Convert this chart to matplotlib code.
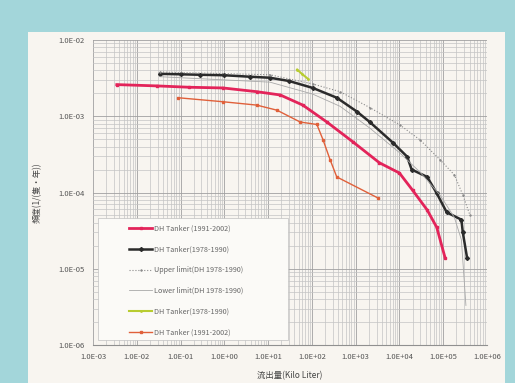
import matplotlib
matplotlib.use('Agg')
import matplotlib.pyplot as plt
import matplotlib.ticker as mticker
from matplotlib.patches import Rectangle

plt.rcParams['font.family'] = ['Noto Sans CJK JP', 'DejaVu Sans']

# DH Tanker (1978-1990)
black_x = [0.034, 0.1, 0.28, 1.0, 3.8, 11, 30, 105, 370, 1070, 2100, 7100, 15000,
           19000, 43000, 71000, 120000, 260000, 280000, 350000]
black_y = [3.6e-3, 3.55e-3, 3.5e-3, 3.45e-3, 3.3e-3, 3.2e-3, 2.9e-3, 2.35e-3, 1.75e-3,
           1.15e-3, 8.4e-4, 4.5e-4, 2.95e-4, 2.0e-4, 1.6e-4, 9.8e-5, 5.5e-5, 4.4e-5,
           3.0e-5, 1.4e-5]

# DH Tanker (1991-2002)
red_x = [3.5e-3, 0.029, 0.16, 0.93, 5.5, 19, 62, 220, 870, 3500, 10000, 20000,
         43000, 71000, 110000]
red_y = [2.6e-3, 2.5e-3, 2.4e-3, 2.35e-3, 2.1e-3, 1.9e-3, 1.4e-3, 8.4e-4, 4.6e-4,
         2.45e-4, 1.8e-4, 1.07e-4, 5.9e-5, 3.5e-5, 1.4e-5]

# DH Tanker (1991-2002), second series
orange_x = [0.087, 0.93, 5.5, 16, 54, 130, 180, 260, 370, 3200]
orange_y = [1.75e-3, 1.55e-3, 1.4e-3, 1.2e-3, 8.4e-4, 7.8e-4, 4.9e-4, 2.7e-4,
            1.6e-4, 8.5e-5]

# upper / lower limits (DH 1978-1990)
upper_x = [0.034, 11, 105, 440, 2100, 10200, 29500, 84000, 180000, 280000, 410000]
upper_y = [3.8e-3, 3.5e-3, 2.65e-3, 2.1e-3, 1.3e-3, 7.7e-4, 4.9e-4, 2.7e-4,
           1.7e-4, 9.3e-5, 5.0e-5]
lower_x = [0.034, 11, 105, 440, 2100, 10200, 29500, 84000, 180000, 260000, 330000]
lower_y = [3.3e-3, 2.8e-3, 1.95e-3, 1.35e-3, 7.0e-4, 3.3e-4, 1.85e-4, 9.3e-5,
           4.7e-5, 2.4e-5, 3.3e-6]

# DH Tanker (1978-1990), short segment
yel_x = [46, 59, 81]
yel_y = [4.1e-3, 3.6e-3, 3.1e-3]

labels = ['DH Tanker (1991-2002)', 'DH Tanker(1978-1990)',
          'Upper limit(DH 1978-1990)', 'Lower limit(DH 1978-1990)',
          'DH Tanker(1978-1990)', 'DH Tanker (1991-2002)']

fig = plt.figure(figsize=(5.15, 3.83), dpi=100)
fig.patch.set_facecolor('#a3d6da')

# white panel behind the chart
bg = fig.add_axes([0, 0, 1, 1], zorder=-1)
bg.set_xlim(0, 515)
bg.set_ylim(383, 0)
bg.axis('off')
bg.add_patch(Rectangle((28, 32), 477, 360, facecolor='#f8f5f0', edgecolor='none'))

ax = fig.add_axes([93 / 515, 1 - 345 / 383, 394 / 515, 305 / 383])
ax.set_facecolor('#f8f5f0')
ax.set_xscale('log')
ax.set_yscale('log')
ax.set_xlim(1e-3, 1e6)
ax.set_ylim(1e-6, 1e-2)

ax.plot(red_x, red_y, color='#e3245a', lw=2, marker='s', ms=2, label=labels[0])
ax.plot(black_x, black_y, color='#2b2b2b', lw=1.8, marker='D', ms=2, label=labels[1])
ax.plot(upper_x, upper_y, color='#8a8a8a', lw=0.8, ls=':', marker='+', ms=2,
        label=labels[2])
ax.plot(lower_x, lower_y, color='#a8a8a8', lw=0.6, label=labels[3])
ax.plot(yel_x, yel_y, color='#b8cc30', lw=1.5, marker='.', ms=2, label=labels[4])
ax.plot(orange_x, orange_y, color='#e0603a', lw=1, marker='s', ms=1.5,
        label=labels[5])

ax.xaxis.set_major_locator(mticker.LogLocator(base=10, numticks=12))
ax.yaxis.set_major_locator(mticker.LogLocator(base=10, numticks=12))
ax.xaxis.set_minor_locator(mticker.LogLocator(base=10, subs=range(2, 10), numticks=12))
ax.yaxis.set_minor_locator(mticker.LogLocator(base=10, subs=range(2, 10), numticks=12))
fmt = mticker.FuncFormatter(lambda v, p: '%.1E' % v)
ax.xaxis.set_major_formatter(fmt)
ax.yaxis.set_major_formatter(fmt)
ax.xaxis.set_minor_formatter(mticker.NullFormatter())
ax.yaxis.set_minor_formatter(mticker.NullFormatter())

ax.grid(True, which='major', color='#a0a0a0', lw=0.6)
ax.grid(True, which='minor', color='#c4c4c4', lw=0.5)
ax.set_axisbelow(True)
for s in ['top', 'right', 'left']:
    ax.spines[s].set_visible(False)
ax.spines['bottom'].set_color('#909090')
ax.tick_params(which='both', length=0, labelsize=5.5, colors='#555555', pad=6)

ax.set_xlabel('流出量(Kilo Liter)', fontsize=6, color='#444444', labelpad=7)
ax.set_ylabel('頻度(1/(隻・年))', fontsize=6, color='#444444', labelpad=12)

# legend box (drawn separately so the entries can sit off-centre)
ax.add_patch(Rectangle((5 / 394, 5 / 305), 190 / 394, 122 / 305,
                       transform=ax.transAxes, facecolor='#fbfaf7',
                       edgecolor='#c0c0c0', lw=0.5, zorder=5))
leg = ax.legend(loc='upper left', bbox_to_anchor=(36 / 394, 120 / 305), fontsize=5.2,
                labelspacing=1.75, handlelength=3.2, borderpad=0,
                handletextpad=0.2, frameon=False, borderaxespad=0)
leg.set_zorder(6)
for t in leg.get_texts():
    t.set_color('#666666')

fig.savefig('out.png', dpi=100, facecolor=fig.get_facecolor())
